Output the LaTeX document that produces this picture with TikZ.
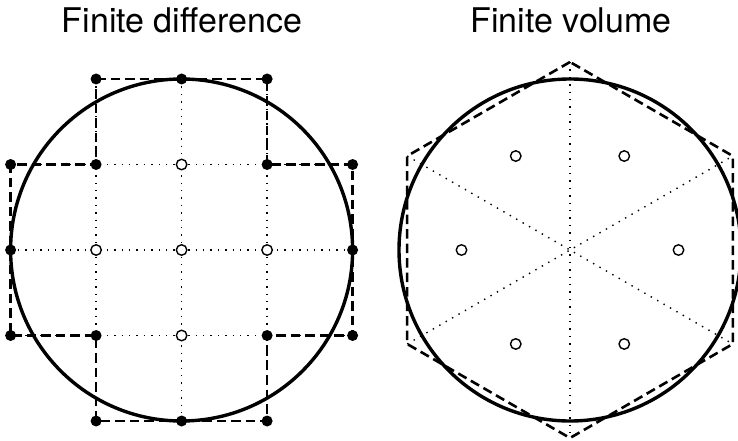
\documentclass[tikz,border=0pt]{standalone}
\usepackage{fontspec}
\setmainfont{TeX Gyre Heros}
\usetikzlibrary{calc}
\tikzset{
  rim/.style={line width=3.4pt},
  cellline/.style={line width=2.6pt, dash pattern=on 9.5pt off 5pt},
  gridline/.style={line width=1.4pt, dash pattern=on 1.4pt off 6pt},
  fullpt/.style={circle, fill=black, inner sep=0pt, minimum size=11pt},
  openpt/.style={circle, draw=black, fill=white, line width=1.4pt, inner sep=0pt, minimum size=10.5pt},
  title/.style={font=\fontsize{34}{40}\selectfont, anchor=base}
}
\begin{document}
\begin{tikzpicture}[x=1pt, y=-1pt]
  \useasboundingbox (0,0) rectangle (738,441);
  \def\h{85.5}
  % titles
  \node[title] (fdtitle) at (182,32.3) {Finite difference};
  \node[title] (fvtitle) at (571,32.3) {Finite volume};
  % finite difference grid
  \coordinate (fd) at (181.6,250);
  \foreach \i in {0,...,4}
    \foreach \j in {0,...,4}
      \coordinate (g-\i-\j) at ($(fd)+({(\i-2)*\h},{(\j-2)*\h})$);
  \foreach \k in {1,2,3} {
    \draw[gridline] (g-0-\k) -- (g-4-\k);
    \draw[gridline] (g-\k-0) -- (g-\k-4);
  }
  \draw[rim] (fd) circle[radius=2*\h];
  \draw[cellline] (g-1-0) -- (g-3-0) -- (g-3-1) -- (g-4-1) -- (g-4-3) -- (g-3-3) -- (g-3-4)
    -- (g-1-4) -- (g-1-3) -- (g-0-3) -- (g-0-1) -- (g-1-1) -- cycle;
  \foreach \p in {1-0,2-0,3-0,0-1,1-1,3-1,4-1,0-2,4-2,0-3,1-3,3-3,4-3,1-4,2-4,3-4}
    \node[fullpt] (b-\p) at (g-\p) {};
  \foreach \p in {2-1,1-2,2-2,3-2,2-3}
    \node[openpt] (u-\p) at (g-\p) {};
  % finite volume hexagon
  \coordinate (fv) at (570,250);
  \foreach \a [count=\n] in {90,150,210,270,330,30}
    \coordinate (v\n) at ($(fv)+({188*cos(\a)},{-188*sin(\a)})$);
  \draw[gridline] (v1) -- (v4);
  \draw[gridline] (v2) -- (v5);
  \draw[gridline] (v3) -- (v6);
  \draw[rim] (fv) circle[radius=171];
  \draw[cellline] (v1) -- (v2) -- (v3) -- (v4) -- (v5) -- (v6) -- cycle;
  \foreach \a [count=\n] in {0,60,120,180,240,300}
    \node[openpt] (c\n) at ($(fv)+({108.5*cos(\a)},{-108.5*sin(\a)})$) {};
\end{tikzpicture}
\end{document}
